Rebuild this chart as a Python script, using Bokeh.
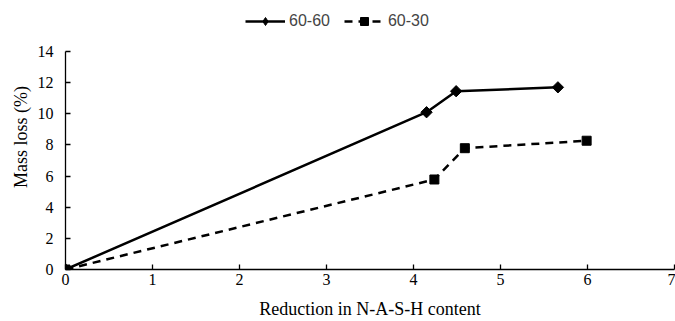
import math
from bokeh.plotting import figure
from bokeh.models import Legend, LegendItem, Range1d, FixedTicker
from bokeh.embed import file_html
from bokeh.resources import INLINE

# data
x_6060 = [0, 4.15, 4.49, 5.66]
y_6060 = [0, 10.1, 11.45, 11.7]
x_6030 = [0, 4.24, 4.59, 5.99]
y_6030 = [0, 5.78, 7.79, 8.27]
x_ticks = [0, 1, 2, 3, 4, 5, 6, 7]
y_ticks = [0, 2, 4, 6, 8, 10, 12, 14]

SERIF = "Liberation Serif"

# frame: bottom at 269 px, value 14 at 51 px -> 218 px for 14 units
TOP = 4
BOTTOM = 52
frame_h = 321 - TOP - BOTTOM
y_end = frame_h * 14 / 218

p = figure(width=675, height=321, output_backend="svg", toolbar_location=None,
           x_range=Range1d(0, 7), y_range=Range1d(0, y_end),
           min_border_left=65, min_border_right=1, min_border_top=TOP, min_border_bottom=BOTTOM)
p.outline_line_color = None
p.xgrid.grid_line_color = None
p.ygrid.grid_line_color = None
p.background_fill_color = "white"
p.border_fill_color = "white"

l1 = p.line(x_6060, y_6060, line_color="black", line_width=2.5)
m1 = p.scatter(x_6060, y_6060, marker="square", size=8, angle=math.pi / 4,
               fill_color="black", line_color="black")
# legend-only diamond glyph (legend swatches ignore marker angle)
m1_leg = p.scatter(x_6060, y_6060, marker="diamond", size=13,
                   fill_color="black", line_color="black", visible=False)
l2 = p.line(x_6030, y_6030, line_color="black", line_width=2.5, line_dash="8 6")
m2 = p.scatter(x_6030, y_6030, marker="square", size=9, fill_color="black", line_color="black")

for ax in (p.xaxis[0], p.yaxis[0]):
    ax.axis_line_color = "black"
    ax.axis_line_width = 1.3
    ax.major_tick_line_color = "black"
    ax.major_tick_line_width = 1.3
    ax.major_tick_in = 5
    ax.major_tick_out = 0
    ax.minor_tick_line_color = None
    ax.major_label_text_font = SERIF
    ax.major_label_text_font_size = "16px"
    ax.major_label_text_color = "black"
    ax.axis_label_text_font = SERIF
    ax.axis_label_text_font_size = "18px"
    ax.axis_label_text_font_style = "normal"
    ax.axis_label_text_color = "black"

p.xaxis[0].ticker = FixedTicker(ticks=x_ticks)
p.yaxis[0].ticker = FixedTicker(ticks=y_ticks)
p.yaxis[0].bounds = (0, 14)
p.xaxis[0].axis_label = "Reduction in N-A-S-H content"
p.yaxis[0].axis_label = "Mass loss (%)"
p.xaxis[0].major_label_standoff = 4
p.xaxis[0].axis_label_standoff = 11
p.yaxis[0].major_label_standoff = 12
p.yaxis[0].axis_label_standoff = 4

legend = Legend(items=[LegendItem(label="60-60", renderers=[l1, m1_leg]),
                       LegendItem(label="60-30", renderers=[l2, m2])],
                orientation="horizontal", location=(180, 238),
                label_text_font="Liberation Sans", label_text_font_size="16px",
                glyph_width=40, label_standoff=4, spacing=14, padding=5, margin=0,
                inactive_fill_alpha=0,
                border_line_color=None, background_fill_alpha=0)
p.add_layout(legend, "center")

open("out.html", "w").write(file_html(p, INLINE))
